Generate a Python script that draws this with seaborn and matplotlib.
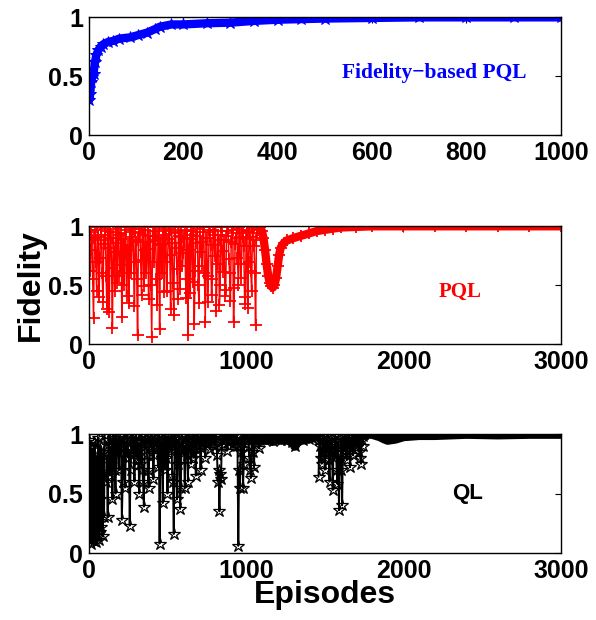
import numpy as np
import matplotlib
matplotlib.use('Agg')
import matplotlib.pyplot as plt
import seaborn as sns

# ---- top panel: fidelity-based PQL (1000 episodes) ----
fpql_ep = [1, 3, 5, 7, 10, 13, 16, 20, 25, 30, 40, 51, 65, 87, 105, 123, 140, 150,
           175, 200, 250, 300, 350, 400, 450, 500, 600, 700, 800, 900, 1000]
fpql_fid = [0.30, 0.35, 0.45, 0.49, 0.52, 0.62, 0.68, 0.72, 0.75, 0.77, 0.79, 0.80,
            0.82, 0.83, 0.85, 0.87, 0.90, 0.92, 0.94, 0.94, 0.95, 0.955, 0.97, 0.98,
            0.985, 0.99, 0.995, 1.0, 1.0, 1.0, 1.0]

# ---- middle panel: PQL (3000 episodes) ----
pql_noisy_ep = np.arange(0, 1090, 10)
pql_noisy_fid = [
    0.95, 0.62, 0.88, 0.22, 0.97, 0.45, 0.91, 0.73, 0.99, 0.36,
    0.85, 0.58, 0.96, 0.27, 0.90, 0.14, 0.78, 0.98, 0.52, 0.93,
    0.67, 0.23, 0.89, 0.99, 0.41, 0.83, 0.95, 0.60, 0.98, 0.32,
    0.87, 0.08, 0.94, 0.71, 1.00, 0.49, 0.97, 0.81, 0.38, 0.92,
    0.06, 0.88, 0.99, 0.55, 0.90, 0.13, 0.84, 0.96, 0.44, 0.93,
    0.70, 0.98, 0.30, 0.86, 0.25, 0.95, 0.64, 0.99, 0.47, 0.91,
    0.77, 0.97, 0.39, 0.08, 0.89, 0.96, 0.53, 0.17, 0.92, 0.98,
    0.35, 0.87, 0.66, 0.99, 0.19, 0.90, 0.58, 0.95, 0.42, 0.97,
    0.75, 0.28, 0.93, 0.33, 0.99, 0.61, 0.88, 0.46, 0.96, 0.72,
    0.37, 0.94, 0.19, 0.85, 0.98, 0.50, 0.91, 0.68, 0.97, 0.40,
    0.89, 0.31, 0.95, 0.62, 0.99, 0.83, 0.16, 0.94, 1.00,
]
pql_noisy_ep_b = np.arange(5, 1085, 10)
pql_noisy_fid_b = [
    0.80, 0.97, 0.55, 0.90, 0.70, 0.99, 0.40, 0.93, 0.60, 0.88,
    0.98, 0.30, 0.82, 0.95, 0.65, 0.90, 0.45, 0.86, 0.99, 0.58,
    0.94, 0.76, 0.50, 0.97, 0.80, 0.35, 0.91, 0.99, 0.70, 0.95,
    0.55, 0.88, 0.98, 0.42, 0.93, 0.80, 0.60, 0.99, 0.87, 0.50,
    0.96, 0.70, 0.92, 0.33, 0.98, 0.85, 0.60, 0.90, 0.99, 0.45,
    0.89, 0.76, 0.97, 0.52, 0.94, 0.82, 0.38, 0.92, 0.99, 0.66,
    0.90, 0.55, 0.96, 0.80, 0.43, 0.93, 0.99, 0.62, 0.86, 0.50,
    0.95, 0.78, 0.99, 0.60, 0.90, 0.36, 0.97, 0.84, 0.55, 0.93,
    0.99, 0.68, 0.88, 0.50, 0.96, 0.79, 0.41, 0.92, 0.99, 0.60,
    0.87, 0.97, 0.48, 0.90, 0.73, 0.99, 0.56, 0.94, 0.83, 0.34,
    0.96, 0.70, 0.91, 0.45, 0.98, 0.60, 0.88, 0.97,
]
pql_smooth_ep = [1080, 1090, 1100, 1110, 1120, 1130, 1140, 1150, 1160, 1170, 1180,
                 1190, 1200, 1210, 1220, 1240, 1260, 1300, 1350, 1400, 1450, 1500,
                 1550, 1600, 1700, 1800, 2000, 2200, 2400, 2600, 2800, 3000]
pql_smooth_fid = [1.00, 0.99, 0.96, 0.90, 0.80, 0.68, 0.58, 0.52, 0.49, 0.48, 0.50,
                  0.56, 0.66, 0.76, 0.82, 0.86, 0.88, 0.90, 0.92, 0.94, 0.96, 0.97,
                  0.98, 0.99, 0.995, 1.0, 1.0, 1.0, 1.0, 1.0, 1.0, 1.0]

# ---- bottom panel: QL (3000 episodes) ----
ql_early_ep = np.arange(0, 104, 4)
ql_early_fid = [0.30, 0.95, 0.12, 0.70, 0.08, 0.88, 0.20, 0.55, 0.10, 0.93,
                0.15, 0.62, 0.09, 0.80, 0.25, 0.97, 0.11, 0.45, 0.18, 0.90,
                0.22, 0.68, 0.14, 0.85, 0.30, 0.99]
ql_mid_ep = np.arange(110, 1110, 10)
ql_mid_fid = [
    0.60, 0.30, 0.92, 0.75, 0.45, 0.97, 0.50, 0.88, 0.70,
    0.98, 0.28, 0.90, 0.55, 0.95, 0.80, 0.23, 0.96, 0.85, 0.60,
    0.99, 0.78, 0.50, 0.93, 0.70, 0.39, 0.97, 0.82, 0.55, 0.95,
    0.88, 0.62, 0.99, 0.90, 0.72, 0.08, 0.94, 0.42, 0.97, 0.80,
    0.50, 0.98, 0.86, 0.65, 0.16, 0.96, 0.45, 0.92, 0.37, 0.99,
    0.84, 0.55, 0.97, 0.60, 0.93, 0.75, 0.99, 0.88, 0.65, 0.96,
    0.90, 0.70, 0.98, 0.93, 0.80, 0.99, 0.95, 0.87, 1.00, 0.96,
    0.90, 0.98, 0.60, 0.35, 0.62, 0.97, 0.92, 0.99, 0.86, 0.98,
    0.94, 0.99, 0.95, 0.90, 0.98, 0.06, 0.55, 0.96, 0.55, 0.99,
    0.92, 0.98, 0.80, 0.63, 0.97, 0.72, 0.99, 0.95, 0.88, 0.98,
    0.96,
]
ql_mid_ep_b = np.arange(115, 1105, 10)
ql_mid_fid_b = [
    0.82, 0.95, 0.65, 0.90, 0.99, 0.70, 0.93, 0.85, 0.97,
    0.88, 0.60, 0.96, 0.80, 0.99, 0.87, 0.70, 0.95, 0.90, 0.98,
    0.85, 0.93, 0.75, 0.99, 0.60, 0.90, 0.96, 0.70, 0.88, 0.99,
    0.93, 0.82, 0.97, 0.88, 0.99, 0.90, 0.85, 0.95, 0.70, 0.98,
    0.88, 0.93, 0.99, 0.60, 0.90, 0.97, 0.75, 0.94, 0.55, 0.98,
    0.90, 0.96, 0.82, 0.99, 0.88, 0.95, 0.80, 0.97, 0.90, 0.99,
    0.95, 0.88, 1.00, 0.96, 0.92, 0.99, 0.97, 0.94, 0.99, 0.90,
    0.97, 0.82, 0.70, 0.66, 0.90, 0.99, 0.95, 0.98, 0.93, 0.99,
    0.96, 0.92, 0.99, 0.95, 0.90, 0.70, 0.85, 0.93, 0.75, 0.97,
    0.99, 0.90, 0.70, 0.95, 0.85, 0.99, 0.92, 0.97, 0.95, 0.99,
]
ql_plateau_ep = np.arange(1110, 1460, 10)
ql_plateau_fid = [
    0.98, 0.95, 1.00, 0.97, 0.96, 0.99, 0.94, 0.98, 1.00, 0.96,
    0.99, 0.95, 0.97, 1.00, 0.98, 0.95, 0.99, 0.97, 0.93, 0.98,
    0.90, 0.96, 0.99, 1.00, 0.97, 0.95, 0.99, 0.98, 1.00, 0.96,
    0.99, 0.97, 0.98, 1.00, 0.99,
]
ql_second_ep = [1460, 1465, 1470, 1475, 1480, 1485, 1490, 1495, 1500, 1505, 1510,
                1515, 1520, 1525, 1530, 1535, 1540, 1545, 1550, 1555, 1560, 1565,
                1570, 1575, 1580, 1585, 1590, 1595, 1600, 1605, 1610, 1615, 1620,
                1625, 1630, 1635, 1640, 1645, 1650, 1655, 1660, 1665, 1670, 1675,
                1680, 1685, 1690, 1695, 1700, 1705, 1710, 1715, 1720, 1725, 1730,
                1735, 1740, 1745, 1750]
ql_second_fid = [0.64, 0.95, 0.90, 0.80, 0.75, 0.98, 0.97, 0.85, 0.70, 0.93,
                 0.85, 0.99, 0.95, 0.78, 0.60, 0.92, 0.88, 0.97, 0.53, 0.85,
                 0.80, 0.99, 0.92, 0.70, 0.58, 0.94, 0.36, 0.80, 0.70, 0.97,
                 0.40, 0.90, 0.85, 0.99, 0.95, 0.82, 0.78, 0.96, 0.90, 0.99,
                 0.72, 0.93, 0.96, 0.88, 0.82, 0.99, 0.98, 0.92, 0.90, 0.97,
                 0.99, 0.85, 1.00, 0.80, 0.75, 0.95, 0.90, 0.98, 1.00]
ql_tail_ep = [1750, 1760, 1800, 1850, 1880, 1900, 1950, 2000, 2100, 2200, 2400,
              2600, 2800, 3000]
ql_tail_fid = [1.00, 1.00, 1.00, 0.98, 0.96, 0.95, 0.96, 0.98, 0.99, 0.99, 1.00,
               0.995, 1.00, 1.00]

sns.set_style('white')
plt.rcParams['font.family'] = ['Liberation Sans', 'DejaVu Sans']
plt.rcParams['font.weight'] = 'bold'
for key in ['text.color', 'axes.labelcolor', 'xtick.color', 'ytick.color']:
    plt.rcParams[key] = 'black'


def merged(ep_a, fid_a, ep_b, fid_b):
    ep = np.concatenate([ep_a, ep_b])
    fid = np.concatenate([fid_a, fid_b])
    order = np.argsort(ep, kind='stable')
    return ep[order], fid[order]


fig = plt.figure(figsize=(5.96, 6.2), dpi=100)
ax_top = fig.add_axes([0.149, 0.782, 0.792, 0.190])
ax_mid = fig.add_axes([0.149, 0.445, 0.792, 0.190])
ax_bot = fig.add_axes([0.149, 0.108, 0.792, 0.192])

# top
sns.lineplot(x=fpql_ep, y=fpql_fid, ax=ax_top, color='blue', lw=6, sort=False,
             estimator=None, marker='*', markersize=9, mec='blue', mfc='blue')

# middle
ep, fid = merged(pql_noisy_ep, pql_noisy_fid, pql_noisy_ep_b, pql_noisy_fid_b)
sns.lineplot(x=ep, y=fid, ax=ax_mid, color='red', lw=1.1, sort=False,
             estimator=None, marker='+', markersize=8, mew=1.3, mec='red')
sns.lineplot(x=pql_smooth_ep, y=pql_smooth_fid, ax=ax_mid, color='red', lw=6, sort=False,
             estimator=None, marker='+', markersize=9, mew=1.3, mec='red')

# bottom
star = dict(color='black', sort=False, estimator=None, marker='*', markersize=9,
            mfc='none', mec='black', mew=0.9)
sns.lineplot(x=ql_early_ep, y=ql_early_fid, ax=ax_bot, lw=1.6, **star)
ep, fid = merged(ql_mid_ep, ql_mid_fid, ql_mid_ep_b, ql_mid_fid_b)
sns.lineplot(x=ep, y=fid, ax=ax_bot, lw=1.4, **star)
sns.lineplot(x=ql_plateau_ep, y=ql_plateau_fid, ax=ax_bot, lw=7, **star)
sns.lineplot(x=ql_second_ep, y=ql_second_fid, ax=ax_bot, lw=1.4, **star)
sns.lineplot(x=ql_tail_ep, y=ql_tail_fid, ax=ax_bot, color='black', lw=7,
             sort=False, estimator=None)

for ax, xmax, step in [(ax_top, 1000, 200), (ax_mid, 3000, 1000), (ax_bot, 3000, 1000)]:
    ax.set_xlim(0, xmax)
    ax.set_ylim(0, 1)
    ax.set_xticks(np.arange(0, xmax + 1, step))
    ax.set_yticks([0, 0.5, 1])
    ax.set_yticklabels(['0', '0.5', '1'])
    ax.tick_params(direction='in', top=True, right=True, labelsize=18, length=4,
                   width=0.8, pad=4, colors='black')
    for lab in ax.get_xticklabels() + ax.get_yticklabels():
        lab.set_fontweight('bold')
    for s in ax.spines.values():
        s.set_color('black')
        s.set_linewidth(1)
    ax.set_xlabel('')
    ax.set_ylabel('')

ax_top.text(731, 0.525, 'Fidelity\u2212based PQL', color='blue', ha='center', va='center',
            fontsize=15.5, fontweight='bold', family='Liberation Serif')
ax_mid.text(2363, 0.44, 'PQL', color='red', ha='center', va='center',
            fontsize=15, fontweight='bold', family='Liberation Serif')
ax_bot.text(2408, 0.5, 'QL', color='black', ha='center', va='center',
            fontsize=16, fontweight='bold')

ax_mid.set_ylabel('Fidelity', fontsize=23, fontweight='bold', labelpad=2)
ax_bot.set_xlabel('Episodes', fontsize=23, fontweight='bold', labelpad=-2)

fig.savefig('out.png', dpi=100)
